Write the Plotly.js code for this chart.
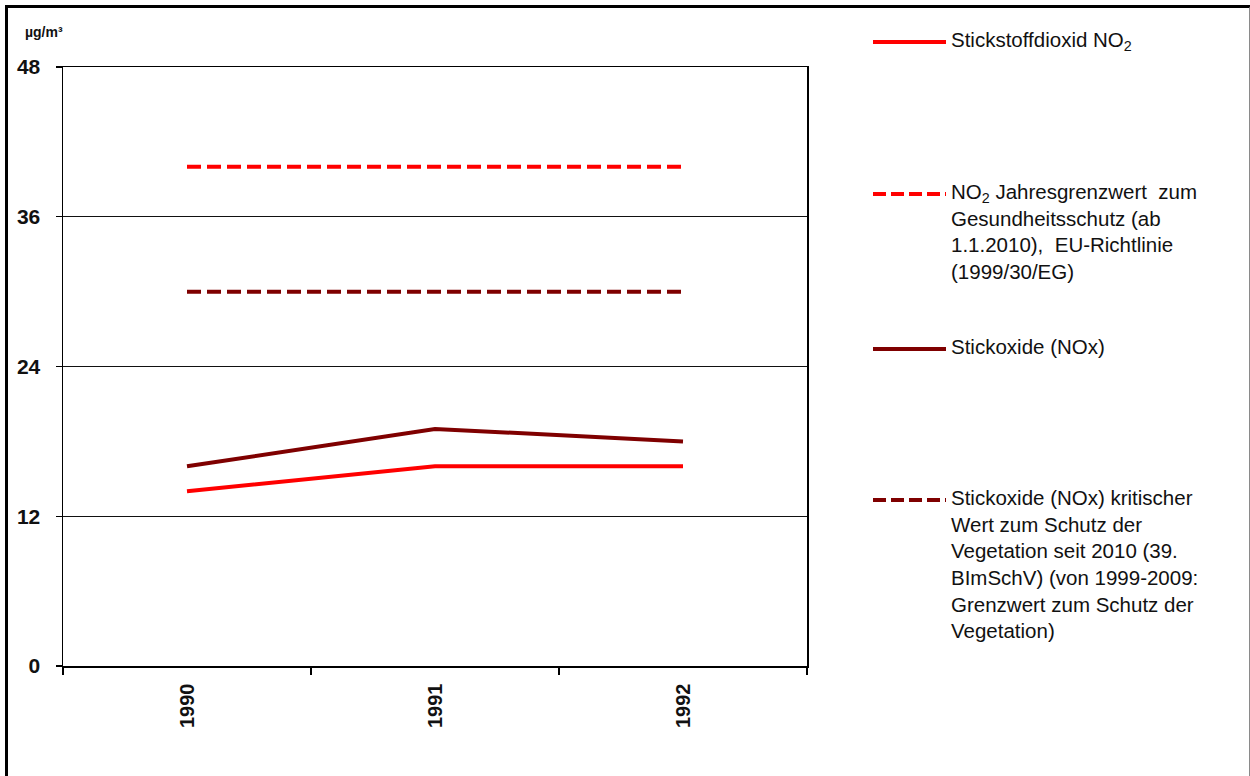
<!DOCTYPE html>
<html>
<head>
<meta charset="utf-8">
<script src="https://cdn.plot.ly/plotly-3.0.1.min.js"></script>
<style>
  html, body { margin: 0; padding: 0; background: #fff; }
  #wrap { position: relative; width: 1250px; height: 776px; }
  #chart { position: absolute; left: 0; top: 0; width: 1250px; height: 776px; }
  #frame { position: absolute; left: 5px; top: 5px; width: 1241px; height: 780px;
           border-left: 3px solid #000; border-top: 3px solid #000; border-right: 2px solid #8a8a8a;
           pointer-events: none; z-index: 5; }
</style>
</head>
<body>
<div id="wrap">
  <div id="chart"></div>
  <div id="frame"></div>
</div>
<script>
// ---- data ----
const years = ['1990', '1991', '1992'];
const no2 = [14, 16, 16];
const no2Limit = [40, 40, 40];
const nox = [16, 19, 18];
const noxLimit = [30, 30, 30];
const yTicks = [0, 12, 24, 36, 48];

const seriesNames = [
  'Stickstoffdioxid NO<sub>2</sub>',
  'NO<sub>2</sub> Jahresgrenzwert  zum<br>Gesundheitsschutz (ab<br>1.1.2010),  EU-Richtlinie<br>(1999/30/EG)',
  'Stickoxide (NOx)',
  'Stickoxide (NOx) kritischer<br>Wert zum Schutz der<br>Vegetation seit 2010 (39.<br>BImSchV) (von 1999-2009:<br>Grenzwert zum Schutz der<br>Vegetation)'
];

// ---- styling / layout constants ----
const RED = '#ff0000';
const DARK = '#7f0000';
const W = 1250, H = 776;
const L = 63, R = 807, T = 67, B = 666;
const px2x = p => (p - L) / (R - L);
const px2y = p => (B - p) / (B - T);
const FONT = 'Liberation Sans, Arial, sans-serif';

const styles = [
  {color: RED, dash: 'solid'},
  {color: RED, dash: '14px,6px'},
  {color: DARK, dash: 'solid'},
  {color: DARK, dash: '14px,6px'}
];
const values = [no2, no2Limit, nox, noxLimit];

const traces = values.map((v, i) => ({
  type: 'scatter', mode: 'lines', x: years, y: v,
  name: seriesNames[i], showlegend: false,
  line: {color: styles[i].color, width: 4, dash: styles[i].dash}
}));

// manual legend (positions of entries)
const legendY = [42, 194, 349, 500];
const shapes = [];
const annotations = [];
legendY.forEach((py, i) => {
  shapes.push({
    type: 'line', xref: 'paper', yref: 'paper',
    x0: px2x(873), x1: px2x(946), y0: px2y(py), y1: px2y(py),
    line: {color: styles[i].color, width: 4, dash: styles[i].dash === 'solid' ? 'solid' : '13px,5px'}
  });
  annotations.push({
    xref: 'paper', yref: 'paper', x: px2x(949), y: px2y(py - 16),
    xanchor: 'left', yanchor: 'top', align: 'left', showarrow: false,
    text: seriesNames[i],
    font: {family: FONT, size: 20.5, color: '#111'}
  });
});
annotations.push({
  xref: 'paper', yref: 'paper', x: px2x(23), y: px2y(32),
  xanchor: 'left', yanchor: 'middle', showarrow: false,
  text: 'µg/m³', font: {family: FONT, size: 14, color: '#111', weight: 'bold'}
});

const layout = {
  width: W, height: H,
  margin: {l: L, r: W - R, t: T, b: H - B, pad: 0},
  paper_bgcolor: '#fff', plot_bgcolor: '#fff',
  showlegend: false,
  xaxis: {
    type: 'category', range: [-0.5, 2.5],
    showgrid: false, zeroline: false,
    showline: true, mirror: true, linecolor: '#000', linewidth: 1.5,
    ticks: 'outside', tickson: 'boundaries', ticklen: 7, tickcolor: '#000', tickwidth: 1.2,
    tickangle: -90, ticklabelstandoff: 8,
    tickfont: {family: FONT, size: 20, color: '#111', weight: 'bold'}
  },
  yaxis: {
    range: [0, 48], tickvals: yTicks, ticktext: yTicks.map(String),
    showgrid: true, gridcolor: '#111', gridwidth: 1.3,
    zeroline: false,
    showline: true, mirror: true, linecolor: '#000', linewidth: 1.5,
    ticks: 'outside', ticklen: 6, tickcolor: '#000', tickwidth: 1.2,
    ticklabelstandoff: 11,
    tickfont: {family: FONT, size: 21, color: '#111', weight: 'bold'}
  },
  shapes: shapes,
  annotations: annotations
};

Plotly.newPlot('chart', traces, layout, {displayModeBar: false, staticPlot: true});
</script>
</body>
</html>
